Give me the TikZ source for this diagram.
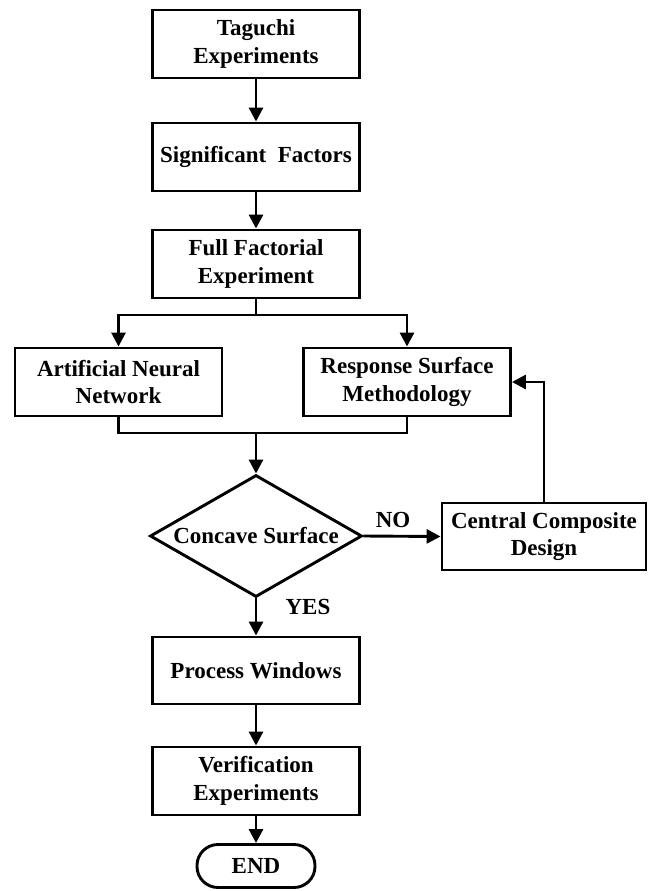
\documentclass[tikz,border=0pt]{standalone}
\usepackage{fontspec}
\setmainfont{Liberation Serif}
\usetikzlibrary{arrows.meta,shapes.geometric}
\begin{document}
\begin{tikzpicture}[x=1pt,y=-1pt,
  line width=2.9pt,
  every node/.style={font=\fontsize{23}{27.5}\selectfont\bfseries, align=center, inner sep=0pt},
  procbox/.style={draw, rectangle, minimum width=207pt, minimum height=68pt},
  decbox/.style={draw, diamond, aspect=1.74, minimum width=212pt, minimum height=122pt},
  endbox/.style={draw, rectangle, rounded corners=21pt, minimum width=118pt, minimum height=43pt},
  arr/.style={-{Triangle[width=14pt,length=14pt]}},
  lbl/.style={}]
\useasboundingbox (0,0) rectangle (649,891);
\node[procbox] (tag) at (256,44) {Taguchi\\Experiments};
\node[procbox] (sig) at (256,157) {Significant\ \ Factors};
\node[procbox] (ff) at (256,264) {Full Factorial\\Experiment};
\node[procbox] (ann) at (118.5,382) {Artificial Neural\\Network};
\node[procbox] (rsm) at (407,382) {Response Surface\\Methodology};
\node[decbox] (dec) at (256,536) {Concave Surface};
\node[procbox, minimum width=204pt, minimum height=67pt] (ccd) at (544,536.5) {Central Composite\\Design};
\node[procbox, minimum height=67pt] (pw) at (256,670.5) {Process Windows};
\node[procbox] (ver) at (256,781) {Verification\\Experiments};
\node[endbox] (end) at (256,866) {END};
\node[lbl] (no) at (393,520) {NO};
\node[lbl] (yes) at (308,607) {YES};
\coordinate (split) at (256,315);
\coordinate (merge) at (256,433);
\draw[arr] (tag) -- (sig);
\draw[arr] (sig) -- (ff);
\draw (ff.south) -- (split);
\draw[arr] (split) -| (ann.north);
\draw[arr] (split) -| (rsm.north);
\draw (ann.south) |- (merge) -| (rsm.south);
\draw[arr] (merge) -- (dec.north);
\draw[arr] (dec.east) -- (ccd.west);
\draw[arr] (ccd.north) |- (rsm.east);
\draw[arr] (dec.south) -- (pw.north);
\draw[arr] (pw) -- (ver);
\draw[arr] (ver) -- (end);
\end{tikzpicture}
\end{document}
